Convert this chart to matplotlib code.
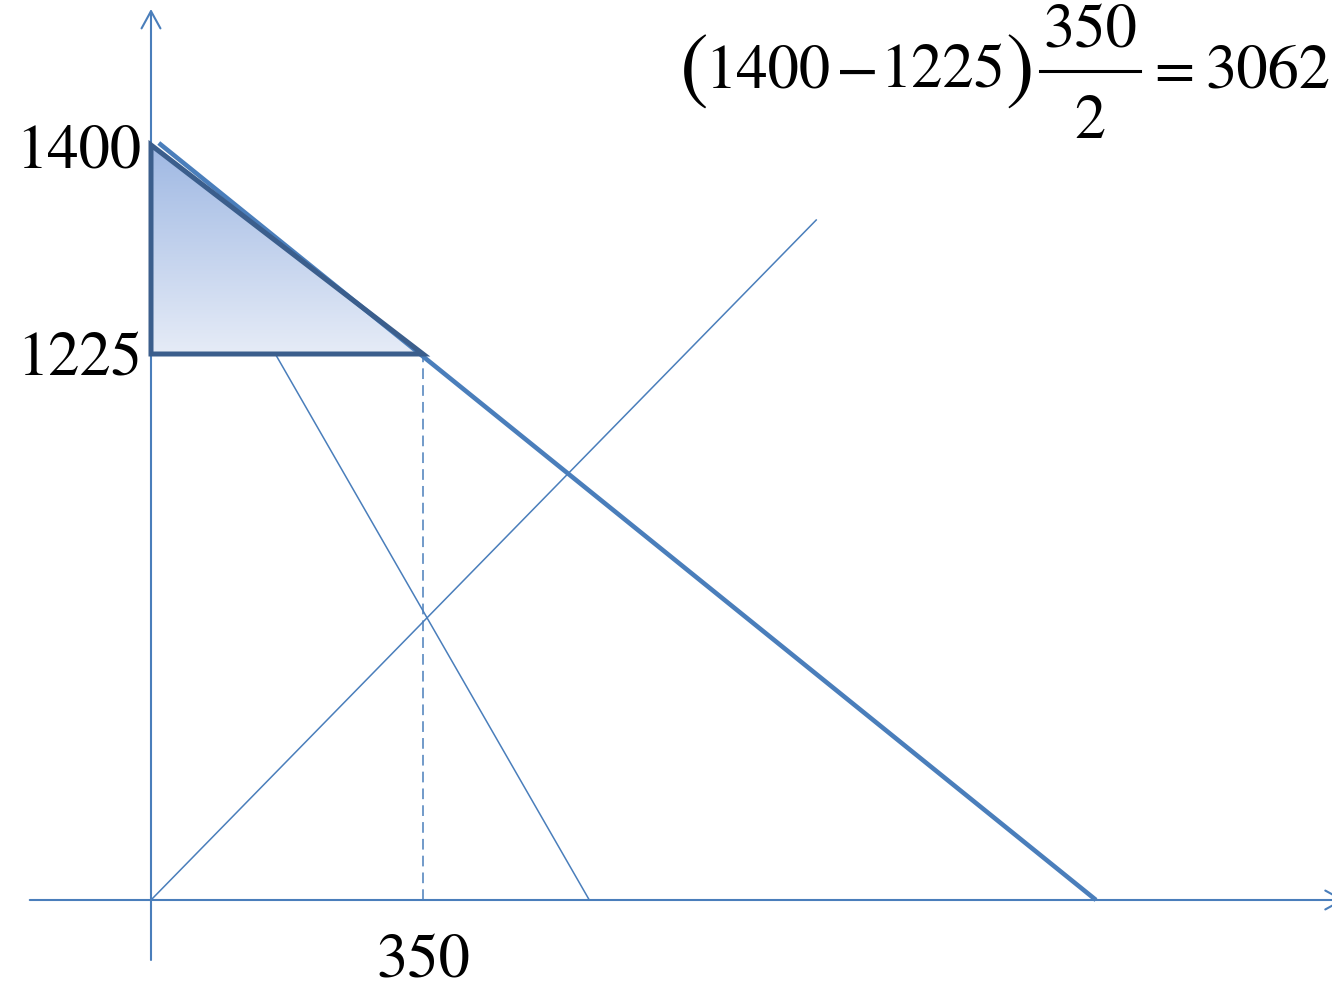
import numpy as np
import matplotlib
matplotlib.use("Agg")
import matplotlib.pyplot as plt
from matplotlib.colors import LinearSegmentedColormap
from matplotlib.patches import Polygon
from matplotlib.lines import Line2D

# sketch is not drawn to scale: x in quantity units, y in diagram height units
price_labels = ["1400", "1225"]
price_pos = [755, 546]
qty_label = "350"
qty_pos = 350

demand_x = [10, 1216]
demand_y = [757, 0]
supply_x = [0, 856]
supply_y = [0, 680]
mc_x = [160, 564]
mc_y = [546, 0]
tri_x = [0, 0, 350]
tri_y = [755, 546, 546]

# pieces of the surplus formula
f_left, f_right = "1400", "1225"
f_num, f_den = "350", "2"
f_result = "3062"

blue = "#4a7ebb"
dark = "#3b5e8c"
W, H = 1332, 989

fig = plt.figure(figsize=(W / 100, H / 100), dpi=100)
ax = fig.add_axes([0, 0, 1, 1])
ax.set_xlim(-194.3, 1519.7)
ax.set_ylim(-89, 900)
ax.axis("off")

# axes with open arrow heads
arrow = dict(arrowstyle="->,head_length=0.62,head_width=0.34", color=blue, lw=1.5,
             shrinkA=0, shrinkB=0, mutation_scale=20)
ax.annotate("", xy=(1536, 0), xytext=(-156, 0), arrowprops=arrow, annotation_clip=False)
ax.annotate("", xy=(0, 891), xytext=(0, -60), arrowprops=arrow, annotation_clip=False)

# shaded triangle with vertical gradient
cmap = LinearSegmentedColormap.from_list("grad", ["#e6ecf7", "#9fb8e3"])
grad = np.linspace(0, 1, 256).reshape(-1, 1)
im = ax.imshow(grad, extent=(min(tri_x), max(tri_x), min(tri_y), max(tri_y)),
               origin="lower", cmap=cmap, aspect="auto", zorder=2)
tri = Polygon(np.column_stack([tri_x, tri_y]), closed=True, facecolor="none",
              edgecolor=dark, lw=3.6, joinstyle="miter", zorder=4)
ax.add_patch(tri)
im.set_clip_path(tri)

ax.plot(demand_x, demand_y, color=blue, lw=3.3, zorder=3, solid_capstyle="butt")
ax.plot(supply_x, supply_y, color=blue, lw=1.1, zorder=3)
ax.plot(mc_x, mc_y, color=blue, lw=1.1, zorder=3)
ax.plot([qty_pos, qty_pos], [0, price_pos[1]], color=blue, lw=1.1,
        linestyle=(0, (7, 4)), zorder=3)

serif = ["STIXGeneral", "Liberation Serif"]
tfont = dict(family=serif, size=45, color="black")
for lab, y in zip(price_labels, price_pos):
    ax.text(-12, y - 22, lab, ha="right", va="baseline", **tfont)
ax.text(qty_pos, -77, qty_label, ha="center", va="baseline", **tfont)


# formula laid out like an equation-editor object (pixel positions, top-left origin)
def put(px, py, s, ha="left", size=45):
    fig.text(px / W, 1 - py / H, s, ha=ha, va="baseline", family=serif,
             size=size, color="black")


put(694, 94, "(", ha="center", size=62)
put(705, 88, f_left)
put(857, 88, "\u2212", ha="center")
put(880, 88, f_right)
put(1020, 94, ")", ha="center", size=62)
put(1090, 47, f_num, ha="center")
put(1090, 138, f_den, ha="center")
fig.add_artist(Line2D([1040 / W, 1140 / W], [1 - 71 / H, 1 - 71 / H],
                      transform=fig.transFigure, color="black", lw=2.2))
put(1174, 88, "=", ha="center", size=42)
put(1205, 88, f_result)

fig.savefig("out.png", dpi=100)
